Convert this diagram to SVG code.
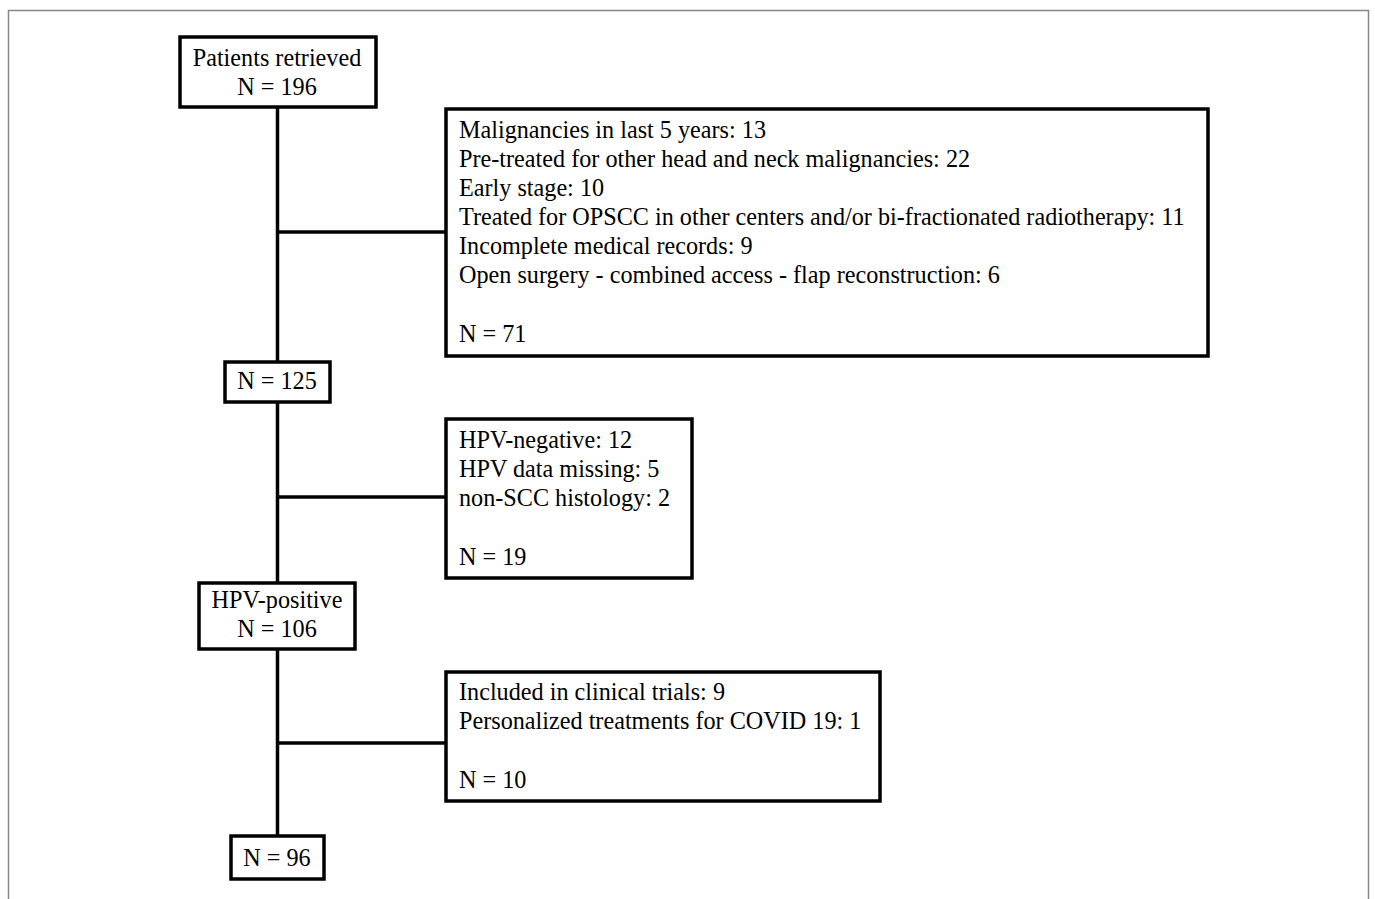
<svg xmlns="http://www.w3.org/2000/svg" width="1375" height="899" viewBox="0 0 1375 899">
<style>
.box{fill:#fff;stroke:#000;stroke-width:3.5}
.ln{stroke:#000;stroke-width:3.5;fill:none}
text{font-family:"Liberation Serif","Times New Roman",serif;font-size:24.2px;fill:#000}
.c{text-anchor:middle}
</style>
<rect x="0" y="0" width="1375" height="899" fill="#fff"/>
<rect x="8.5" y="10.5" width="1360" height="900" fill="none" stroke="#888" stroke-width="1.5"/>
<g id="connectors">
<line class="ln" x1="277.5" y1="107" x2="277.5" y2="836"/>
<line class="ln" x1="277.5" y1="232" x2="446" y2="232"/>
<line class="ln" x1="277.5" y1="497" x2="446" y2="497"/>
<line class="ln" x1="277.5" y1="743" x2="446" y2="743"/>
</g>
<g id="n1"><rect class="box" x="180" y="37" width="196" height="70"/>
<text class="c" x="277" y="66">Patients retrieved</text><text class="c" x="277" y="95">N = 196</text></g>
<g id="n2"><rect class="box" x="446" y="109" width="762" height="247"/>
<text x="459" y="138">Malignancies in last 5 years: 13</text>
<text x="459" y="167">Pre-treated for other head and neck malignancies: 22</text>
<text x="459" y="196">Early stage: 10</text>
<text x="459" y="225">Treated for OPSCC in other centers and/or bi-fractionated radiotherapy: 11</text>
<text x="459" y="254">Incomplete medical records: 9</text>
<text x="459" y="283">Open surgery - combined access - flap reconstruction: 6</text>
<text x="459" y="342">N = 71</text></g>
<g id="n3"><rect class="box" x="225" y="362" width="105" height="40"/>
<text class="c" x="277" y="389">N = 125</text></g>
<g id="n4"><rect class="box" x="446" y="419" width="246" height="159"/>
<text x="459" y="448">HPV-negative: 12</text>
<text x="459" y="477">HPV data missing: 5</text>
<text x="459" y="506">non-SCC histology: 2</text>
<text x="459" y="565">N = 19</text></g>
<g id="n5"><rect class="box" x="199" y="583" width="156" height="66"/>
<text class="c" x="277" y="608">HPV-positive</text><text class="c" x="277" y="637">N = 106</text></g>
<g id="n6"><rect class="box" x="446" y="672" width="434" height="129"/>
<text x="459" y="700">Included in clinical trials: 9</text>
<text x="459" y="729">Personalized treatments for COVID 19: 1</text>
<text x="459" y="788">N = 10</text></g>
<g id="n7"><rect class="box" x="231" y="836" width="93" height="43"/>
<text class="c" x="277" y="866">N = 96</text></g>
</svg>
